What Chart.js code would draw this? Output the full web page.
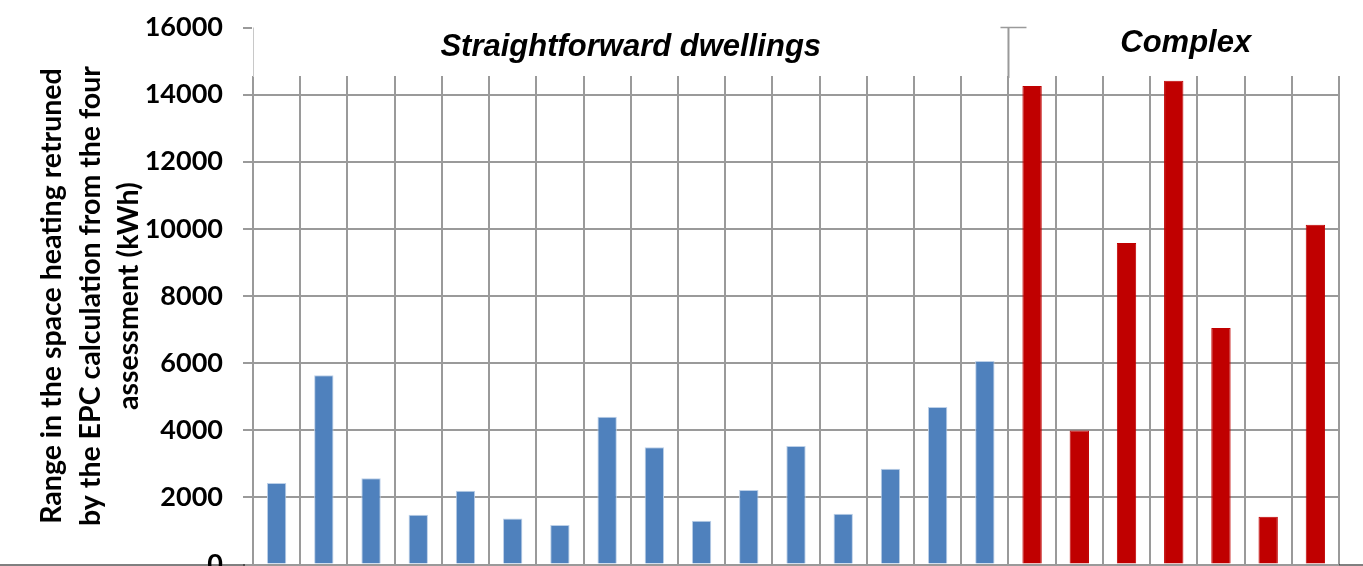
<!DOCTYPE html>
<html>
<head>
<meta charset="utf-8">
<script src="https://cdn.jsdelivr.net/npm/chart.js@4"></script>
<style>
  html, body { margin: 0; padding: 0; background: #ffffff; }
  #wrap { width: 1363px; height: 566px; }
</style>
</head>
<body>
<div id="wrap"><canvas id="chart-range"></canvas></div>
<script>
const straightforwardRange = [2430, 5640, 2570, 1480, 2200, 1370, 1180, 4400, 3490, 1300, 2220, 3530, 1510, 2850, 4690, 6060];
const complexRange = [14260, 3990, 9580, 14410, 7050, 1420, 10120];
const groupTitles = ["Straightforward dwellings", "Complex"];
const yTicks = [0, 2000, 4000, 6000, 8000, 10000, 12000, 14000, 16000];
const yTitle = ["Range in the space heating retruned", "by the EPC calculation from the four", "assessment (kWh)"];

const BLUE = "#4f81bd";
const RED = "#c00000";
const GRID = "#9a9a9a";

const values = [...straightforwardRange, ...complexRange];
const labels = values.map((_, i) => String(i + 1));
const colors = values.map((_, i) => i < straightforwardRange.length ? BLUE : RED);
const borders = values.map((_, i) => i < straightforwardRange.length ? "#bcd0e8" : RED);

// white band above the grid, group captions and the divider between the two groups
const groupHeader = {
  id: "groupHeader",
  beforeDatasetsDraw(chart) {
    const { ctx, chartArea } = chart;
    ctx.save();
    ctx.fillStyle = "#ffffff";
    ctx.fillRect(chartArea.left - 1, 0, chartArea.right - chartArea.left + 4, 76);
    ctx.strokeStyle = "#c8c8c8";
    ctx.lineWidth = 1;
    ctx.beginPath();
    ctx.moveTo(chartArea.left + 0.5, chartArea.top);
    ctx.lineTo(chartArea.left + 0.5, 77);
    ctx.stroke();
    ctx.restore();
  },
  afterDraw(chart) {
    const { ctx, chartArea, scales } = chart;
    const x = scales.x;
    const split = (x.getPixelForValue(straightforwardRange.length - 1) + x.getPixelForValue(straightforwardRange.length)) / 2;
    ctx.save();
    ctx.strokeStyle = GRID;
    ctx.lineWidth = 2;
    ctx.beginPath();
    ctx.moveTo(split, chartArea.top);
    ctx.lineTo(split, 78);
    ctx.stroke();
    ctx.lineWidth = 1.5;
    ctx.beginPath();
    ctx.moveTo(split - 8, chartArea.top);
    ctx.lineTo(split + 18, chartArea.top);
    ctx.stroke();

    ctx.fillStyle = "#000000";
    ctx.font = "italic bold 31px 'Liberation Sans', Arial, sans-serif";
    ctx.textAlign = "center";
    ctx.textBaseline = "alphabetic";
    ctx.fillText(groupTitles[0], (chartArea.left + split) / 2, 56);
    ctx.fillText(groupTitles[1], (split + chartArea.right) / 2 + 12, 52);

    ctx.strokeStyle = "#000000";
    ctx.lineWidth = 1;
    ctx.beginPath();
    ctx.moveTo(0, 565);
    ctx.lineTo(chartArea.left - 8, 565);
    ctx.moveTo(chartArea.right, 565);
    ctx.lineTo(chart.width, 565);
    ctx.stroke();
    ctx.restore();
  }
};

new Chart(document.getElementById("chart-range").getContext("2d"), {
  type: "bar",
  data: {
    labels,
    datasets: [{
      data: values,
      backgroundColor: colors,
      borderColor: borders,
      borderWidth: 1,
      categoryPercentage: 1,
      barPercentage: 0.41
    }]
  },
  options: {
    responsive: true,
    maintainAspectRatio: false,
    animation: false,
    layout: { padding: { top: 27.5, bottom: 1.5, left: 0, right: 24 } },
    plugins: { legend: { display: false }, tooltip: { enabled: false } },
    scales: {
      x: {
        grid: { color: GRID, lineWidth: 2, drawTicks: false, offset: true },
        border: { display: false },
        ticks: { display: false },
        afterFit(scale) {
          scale.height = 0;
          scale.paddingLeft = 0;
          scale.paddingRight = 0;
        }
      },
      y: {
        min: 0,
        max: 16000,
        afterBuildTicks(scale) {
          scale.ticks = yTicks.map(value => ({ value }));
        },
        grid: { color: GRID, lineWidth: 2, tickLength: 10 },
        border: { display: false },
        ticks: {
          color: "#000000",
          padding: 20,
          font: { family: "Lato", weight: "bold", size: 27 },
          callback: value => String(value)
        },
        title: {
          display: true,
          text: yTitle,
          color: "#000000",
          padding: { top: 33, bottom: 0 },
          font: { family: "Lato", weight: "bold", size: 28.5, lineHeight: 1.35 }
        },
        afterFit(scale) {
          scale.width = 253;
          scale.paddingTop = 0;
          scale.paddingBottom = 0;
        }
      }
    }
  },
  plugins: [groupHeader]
});
</script>
</body>
</html>
